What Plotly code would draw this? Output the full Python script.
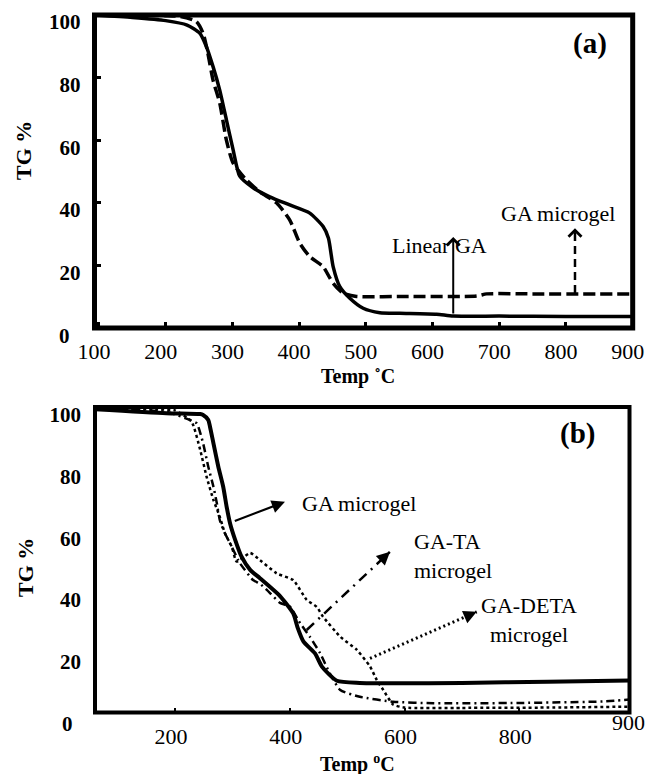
import plotly.graph_objects as go

W, H = 647, 774
FONT = "Liberation Serif"

# ---------------- Panel (a) data ----------------
a_temp_linear = [95, 150, 200, 232, 251, 261, 271, 281, 291, 301, 311, 331, 356, 386, 416,
                 436, 444, 451, 461, 476, 496, 521, 551, 606, 631, 700, 800, 900]
a_tg_linear = [100, 99.2, 98.2, 96.8, 94.2, 89.9, 83.5, 76, 66.5, 57, 48.5, 44.8, 41.9, 39.3, 36.7,
               32.4, 28.7, 19.6, 13.2, 9.5, 6.3, 4.9, 4.7, 4.4, 3.8, 3.8, 3.7, 3.7]

a_temp_micro = [95, 150, 200, 222, 246, 256, 263, 271, 281, 291, 301, 321, 341, 366, 386, 401,
                416, 436, 446, 451, 466, 486, 560, 666, 681, 750, 900]
a_tg_micro = [100, 100, 99.8, 99.5, 97.9, 94.2, 88, 79.2, 71.9, 60, 52.7, 47.3, 43.5, 40, 34.5, 27.1,
              22.8, 19.6, 16, 14.3, 11.1, 10.1, 10.1, 10.2, 10.9, 10.9, 10.9]

a_xticks = [100, 200, 300, 400, 500, 600, 700, 800, 900]
a_yticks = [20, 40, 60, 80, 100]

# ---------------- Panel (b) data ----------------
b_temp_ga = [61, 185, 244, 249, 258, 261, 267, 275.5, 284, 290, 296, 305, 316, 331, 348, 383,
             406, 414, 424, 444, 456, 482, 522, 580, 700, 850, 992]
b_tg_ga = [101.9, 100.6, 100.3, 100, 98.4, 96.2, 90.8, 83.2, 76.7, 70.2, 64.8, 59.4, 54, 49.7, 47, 41.2,
           35.6, 30.8, 26.4, 22.6, 18.3, 13.7, 13, 12.9, 13, 13.4, 13.8]

b_temp_ta = [61, 185, 226, 238, 249, 258, 267, 273, 278, 287, 299, 310, 313, 336, 348, 360, 383,
             400, 418, 435, 453, 470, 488, 522, 580, 650, 800, 950, 992]
b_tg_ta = [102, 101, 98.4, 97.3, 90.8, 83.2, 76.7, 71.3, 65.9, 61.6, 57.2, 52.9, 51.9, 46.4, 45.2, 43.2, 39,
           37.8, 32.4, 28, 22.6, 16, 10.7, 8.5, 6.9, 6.4, 6.5, 7.0, 7.6]

b_temp_deta = [61, 170, 200, 229, 244, 255, 267, 278, 287, 299, 307.5, 331, 348, 377, 406, 429.5,
               447, 458, 488, 517, 540, 551.5, 563, 580, 600, 700, 850, 992]
b_tg_deta = [102.2, 101.8, 101.5, 97.8, 88.6, 80, 72.4, 67, 61.6, 57.2, 52.4, 55.2, 52.9, 48.6, 46.4, 40,
             37.7, 34.5, 28, 23.7, 18.3, 14, 10.7, 6, 5.0, 4.9, 5.0, 5.3]

b_xticks = [200, 400, 600, 800]
b_yticks = [20, 40, 60, 80, 100]

fig = go.Figure()

# Panel (a) curves
fig.add_trace(go.Scatter(x=a_temp_linear, y=a_tg_linear, mode="lines", xaxis="x", yaxis="y",
                         line=dict(color="black", width=3.5, shape="spline", smoothing=0.6),
                         name="Linear GA"))
fig.add_trace(go.Scatter(x=a_temp_micro, y=a_tg_micro, mode="lines", xaxis="x", yaxis="y",
                         line=dict(color="black", width=3.5, dash="12px,5px", shape="spline", smoothing=0.6),
                         name="GA microgel"))

# Panel (b) curves
fig.add_trace(go.Scatter(x=b_temp_deta, y=b_tg_deta, mode="lines", xaxis="x2", yaxis="y2",
                         line=dict(color="black", width=2.5, dash="3px,3px", shape="spline", smoothing=0.5),
                         name="GA-DETA microgel"))
fig.add_trace(go.Scatter(x=b_temp_ta, y=b_tg_ta, mode="lines", xaxis="x2", yaxis="y2",
                         line=dict(color="black", width=2.5, dash="8px,4px,2px,4px", shape="spline", smoothing=0.5),
                         name="GA-TA microgel"))
fig.add_trace(go.Scatter(x=b_temp_ga, y=b_tg_ga, mode="lines", xaxis="x2", yaxis="y2",
                         line=dict(color="black", width=4, shape="spline", smoothing=0.6),
                         name="GA microgel"))


def px_x(px):
    return px / W


def px_y(py):
    return 1 - py / H


tick_font_x = dict(family=FONT, size=22, color="black")
tick_font_y = dict(family=FONT, size=21, color="black", weight="bold")

common = dict(showgrid=False, zeroline=False, showline=False, automargin=False,
              ticklabeloverflow="allow")

fig.update_layout(
    template="none",
    width=W, height=H,
    margin=dict(l=0, r=0, t=0, b=0, autoexpand=False),
    paper_bgcolor="white", plot_bgcolor="white",
    showlegend=False,
    hovermode=False,
    font=dict(family=FONT, color="black"),
    xaxis=dict(domain=[px_x(94.5), px_x(632.7)], range=[93.3, 900], anchor="y",
               tickvals=a_xticks, ticktext=[str(v) for v in a_xticks],
               ticks="inside", ticklen=6, tickwidth=3, tickcolor="black",
               tickfont=tick_font_x, ticklabelstandoff=8, ticklabelshift=-5, **common),
    yaxis=dict(domain=[px_y(328), px_y(15)], range=[0, 100], anchor="x",
               tickvals=a_yticks, ticktext=[str(v) for v in a_yticks],
               ticks="inside", ticklen=6, tickwidth=3, tickcolor="black",
               tickfont=tick_font_y, ticklabelstandoff=13, ticklabelshift=7, **common),
    xaxis2=dict(domain=[px_x(95), px_x(629.5)], range=[60.6, 992], anchor="y2",
                tickvals=b_xticks, ticktext=[str(v) for v in b_xticks],
                ticks="inside", ticklen=5, tickwidth=2, tickcolor="black",
                tickfont=tick_font_x, ticklabelstandoff=8, ticklabelshift=-4, **common),
    yaxis2=dict(domain=[px_y(712.5), px_y(407)], range=[3.4, 102.6], anchor="x2",
                tickvals=b_yticks, ticktext=[str(v) for v in b_yticks],
                ticks="", tickfont=tick_font_y, ticklabelstandoff=13, **common),
)

# Frames
fig.add_shape(type="rect", xref="x domain", yref="y domain", x0=0, x1=1, y0=0, y1=1,
              line=dict(color="black", width=5), layer="above")
fig.add_shape(type="rect", xref="x2 domain", yref="y2 domain", x0=0, x1=1, y0=0, y1=1,
              line=dict(color="black", width=4), layer="above")

ann = []
bold = dict(family=FONT, size=20, color="black", weight="bold")
bold_y = dict(family=FONT, size=22, color="black", weight="bold")
normal = dict(family=FONT, size=22, color="black")
C = dict(xanchor="center", yanchor="middle", showarrow=False)
# Axis titles
ann.append(dict(text="TG %", x=px_x(23), y=px_y(151), xref="paper", yref="paper",
                textangle=-90, font=bold_y, **C))
ann.append(dict(text="TG %", x=px_x(25), y=px_y(568), xref="paper", yref="paper",
                textangle=-90, font=bold_y, **C))
ann.append(dict(text="Temp ˚C", x=px_x(358), y=px_y(376), xref="paper", yref="paper",
                font=bold, **C))
ann.append(dict(text="Temp <sup>o</sup>C", x=px_x(357), y=px_y(763), xref="paper", yref="paper",
                font=bold, **C))
# zero labels and stray 900
zero_font = dict(family=FONT, size=21, color="black", weight="bold")
ann.append(dict(text="0", x=px_x(64), y=px_y(336), xref="paper", yref="paper", font=zero_font, **C))
ann.append(dict(text="0", x=px_x(67), y=px_y(724), xref="paper", yref="paper", font=zero_font, **C))
ann.append(dict(text="900", x=px_x(628), y=px_y(722), xref="paper", yref="paper", font=normal, **C))

# Panel labels
ann.append(dict(text="(a)", x=836, y=91, xref="x", yref="y",
                font=dict(family=FONT, size=29, color="black", weight="bold"), **C))
ann.append(dict(text="(b)", x=902, y=94, xref="x2", yref="y2",
                font=dict(family=FONT, size=29, color="black", weight="bold"), **C))

# Panel (a) arrows + labels
ann.append(dict(text="", x=631, y=29.1, ax=631, ay=4.15, xref="x", yref="y", axref="x", ayref="y",
                showarrow=True, arrowhead=4, arrowsize=1.25, arrowwidth=2, arrowcolor="black"))
ann.append(dict(text="Linear GA", x=611, y=26.5, xref="x", yref="y", font=normal, **C))
fig.add_shape(type="line", xref="x", yref="y", x0=813.5, y0=11.2, x1=813.5, y1=31.5,
              line=dict(color="black", width=2.5, dash="8px,5px"))
ann.append(dict(text="", x=813.5, y=31.9, ax=0, ay=8, xref="x", yref="y",
                showarrow=True, arrowhead=4, arrowsize=1.25, arrowwidth=2, arrowcolor="black"))
ann.append(dict(text="GA microgel", x=788, y=36.7, xref="x", yref="y", font=normal, **C))

# Panel (b) arrows + labels
ann.append(dict(text="", x=391.7, y=71.8, ax=301.6, ay=65.4, xref="x2", yref="y2", axref="x2", ayref="y2",
                showarrow=True, arrowhead=2, arrowsize=1.2, arrowwidth=2.2, arrowcolor="black"))
ann.append(dict(text="GA microgel", x=520.7, y=71.4, xref="x2", yref="y2", font=normal, **C))

fig.add_shape(type="line", xref="x2", yref="y2", x0=429.5, y0=30.2, x1=574.7, y1=55.6,
              line=dict(color="black", width=2.5, dash="10px,6px,2px,6px"))
ann.append(dict(text="", x=574.7, y=55.6, ax=-6, ay=5.6, xref="x2", yref="y2",
                showarrow=True, arrowhead=2, arrowsize=1.2, arrowwidth=2.2, arrowcolor="black"))
ann.append(dict(text="GA-TA<br>microgel", x=613, y=54.1, xref="x2", yref="y2", showarrow=False,
                xanchor="left", yanchor="middle", align="left", font=normal))

fig.add_shape(type="line", xref="x2", yref="y2", x0=539.8, y0=21.0, x1=725.8, y1=36.1,
              line=dict(color="black", width=3, dash="2px,3px"))
ann.append(dict(text="", x=725.8, y=36.1, ax=-7.3, ay=3.2, xref="x2", yref="y2",
                showarrow=True, arrowhead=2, arrowsize=1.2, arrowwidth=2.2, arrowcolor="black"))
ann.append(dict(text="GA-DETA<br>microgel", x=816.9, y=33.3, xref="x2", yref="y2",
                align="center", font=normal, **C))

fig.update_layout(annotations=ann)

fig.write_html("out.html", config={"displayModeBar": False, "staticPlot": True},
               post_script="document.body.style.margin='0';document.body.style.padding='0';")
